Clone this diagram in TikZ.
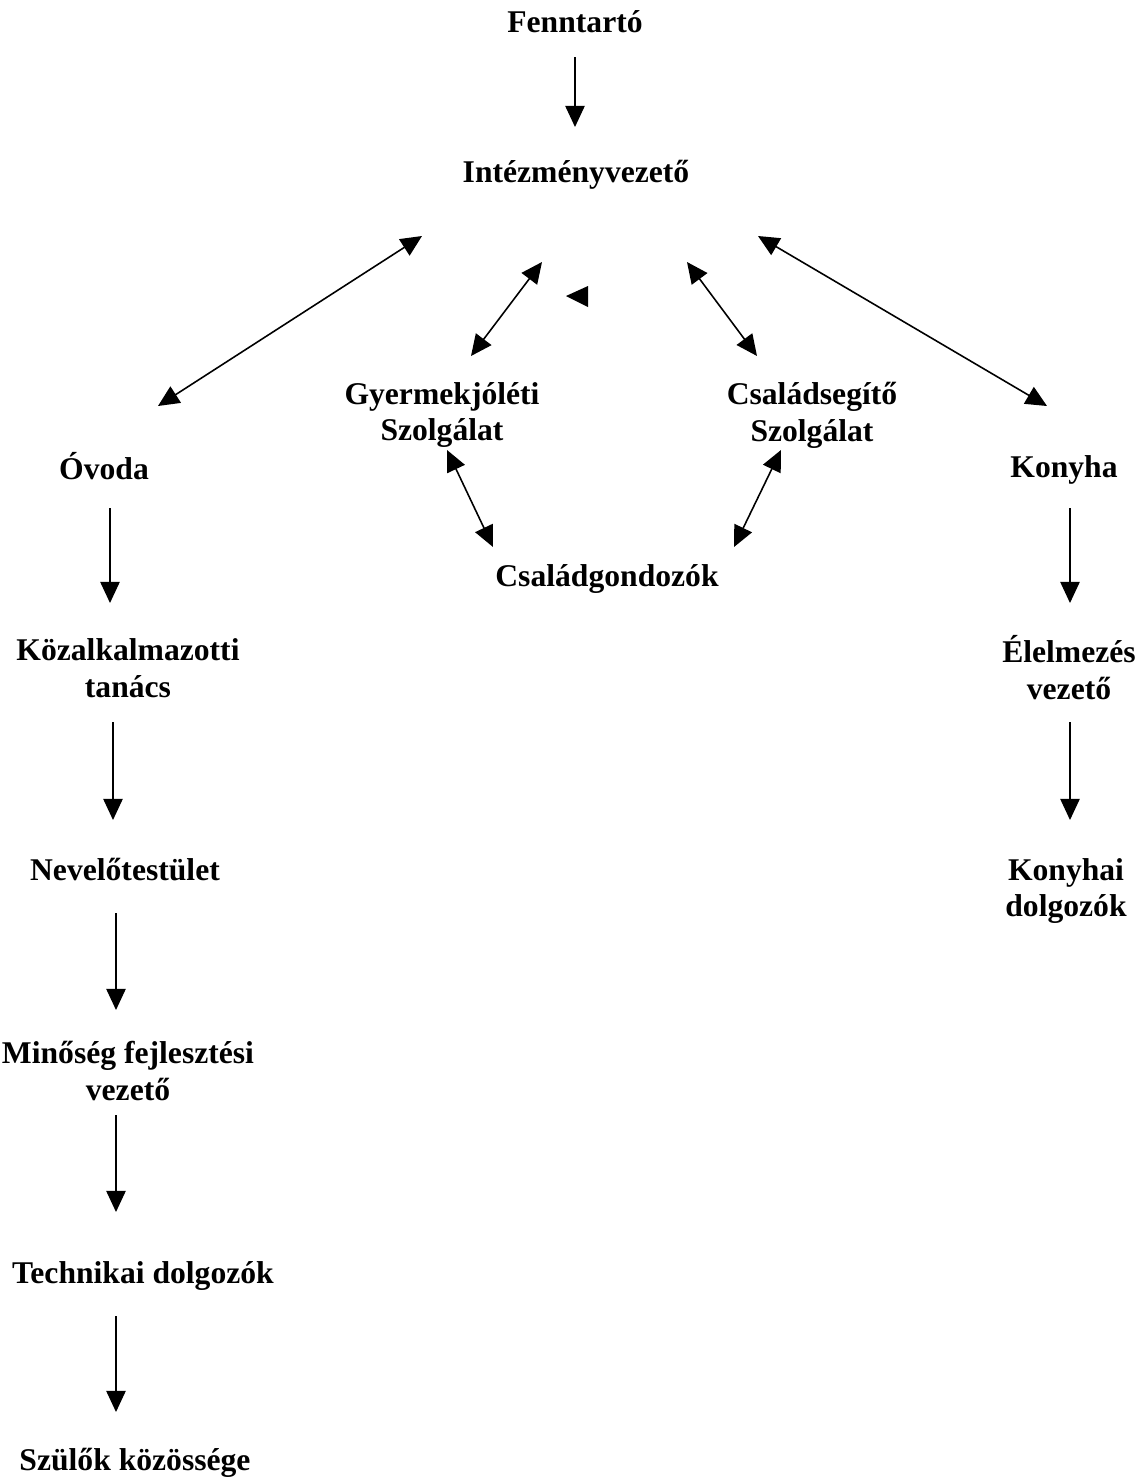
\documentclass[tikz,border=0pt]{standalone}
\usepackage{fontspec}
\setmainfont{Liberation Serif}
\usetikzlibrary{arrows.meta}

\begin{document}
\begin{tikzpicture}[x=0.02cm, y=-0.02cm,
  lbl/.style={font=\fontsize{18}{21}\selectfont\bfseries, align=center, inner sep=0pt},
  arr/.style={-{Triangle[length=12pt, width=11pt]}, line width=0.8pt},
  dbl/.style={{Triangle[length=12pt, width=11pt]}-{Triangle[length=12pt, width=11pt]}, line width=0.9pt},
]
  \useasboundingbox (0,0) rectangle (1146,1478);

  \node[lbl] (fenn) at (575,22) {Fenntartó};
  \node[lbl] (inst) at (576,175) {Intézményvezető};
  \node[lbl] (gyer) at (442,415) {Gyermekjóléti\\Szolgálat};
  \node[lbl] (csal) at (812,415) {Családsegítő\\Szolgálat};
  \node[lbl] (gond) at (607,579) {Családgondozók};
  \node[lbl] (ovoda) at (104,466) {Óvoda};
  \node[lbl] (kozalk) at (128,668) {Közalkalmazotti\\tanács};
  \node[lbl] (nevelo) at (125,870) {Nevelőtestület};
  \node[lbl] (minoseg) at (128,1071) {Minőség fejlesztési\\vezető};
  \node[lbl] (techn) at (143,1276) {Technikai dolgozók};
  \node[lbl] (szulok) at (135,1463) {Szülők közössége};
  \node[lbl] (konyha) at (1064,470) {Konyha};
  \node[lbl] (elelm) at (1069,668) {Élelmezés\\vezető};
  \node[lbl] (konyhai) at (1066,891) {Konyhai\\dolgozók};

  \draw[arr] ([shift={(0,35)}]fenn.center) -- ([shift={(-1,-48)}]inst.center);

  % kapcsolatok az intezmenyvezetovel
  \draw[dbl] ([shift={(-154,61)}]inst.center) -- ([shift={(54,-60)}]ovoda.center);
  \draw[dbl] ([shift={(182,61)}]inst.center) -- ([shift={(-17,-64)}]konyha.center);
  \draw[dbl] ([shift={(-34,87)}]inst.center) -- ([shift={(29,-59)}]gyer.center);
  \draw[dbl] ([shift={(111,87)}]inst.center) -- ([shift={(-55,-59)}]csal.center);
  \fill (566,296) -- (588,286) -- (588,307) -- cycle;
  \draw[dbl] ([shift={(5,35)}]gyer.center) -- ([shift={(-114,-32)}]gond.center);
  \draw[dbl] ([shift={(-31,35)}]csal.center) -- ([shift={(127,-32)}]gond.center);

  % ovoda ag
  \draw[arr] ([shift={(6,42)}]ovoda.center) -- ([shift={(-18,-65)}]kozalk.center);
  \draw[arr] ([shift={(-15,54)}]kozalk.center) -- ([shift={(-12,-50)}]nevelo.center);
  \draw[arr] ([shift={(-9,43)}]nevelo.center) -- ([shift={(-12,-61)}]minoseg.center);
  \draw[arr] ([shift={(-12,44)}]minoseg.center) -- ([shift={(-27,-64)}]techn.center);
  \draw[arr] ([shift={(-27,40)}]techn.center) -- ([shift={(-19,-51)}]szulok.center);

  % konyha ag
  \draw[arr] ([shift={(6,38)}]konyha.center) -- ([shift={(1,-65)}]elelm.center);
  \draw[arr] ([shift={(1,54)}]elelm.center) -- ([shift={(4,-71)}]konyhai.center);
\end{tikzpicture}
\end{document}
